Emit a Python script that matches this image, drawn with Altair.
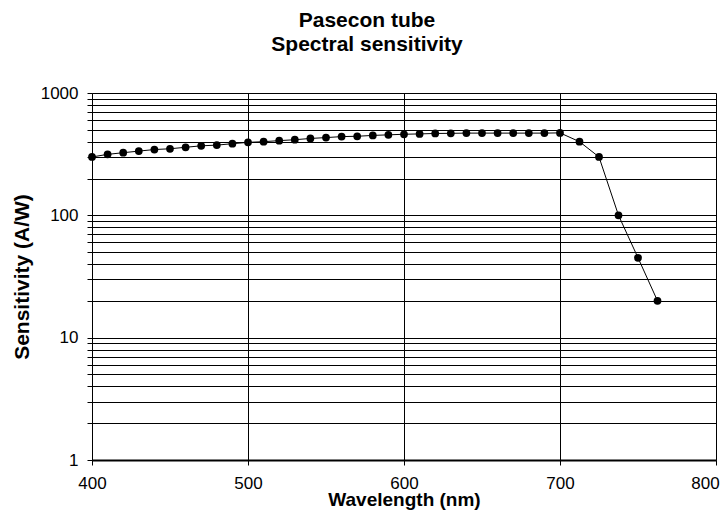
import altair as alt
import pandas as pd

wavelength = [400, 410, 420, 430, 440, 450, 460, 470, 480, 490, 500,
              510, 520, 530, 540, 550, 560, 570, 580, 590, 600,
              610, 620, 630, 640, 650, 660, 670, 680, 690, 700,
              712.5, 725, 737.5, 750, 762.5]
sensitivity = [300, 315, 325, 335, 345, 350, 360, 370, 375, 385, 395,
               400, 408, 415, 425, 432, 440, 443, 450, 455, 460,
               463, 467, 468, 470, 470, 470, 470, 470, 470, 472,
               400, 300, 100, 45, 20]

y_ticks = [1, 2, 3, 4, 5, 6, 7, 8, 9, 10, 20, 30, 40, 50, 60, 70, 80, 90,
           100, 200, 300, 400, 500, 600, 700, 800, 900, 1000]
x_ticks = [400, 500, 600, 700, 800]

df = pd.DataFrame({"wavelength": wavelength, "sensitivity": sensitivity})

FONT = "Liberation Sans"

x_enc = alt.X("wavelength:Q",
              scale=alt.Scale(domain=[400, 800], nice=False, zero=False),
              axis=alt.Axis(values=x_ticks, title="Wavelength (nm)", grid=True,
                            gridColor="#000000", gridWidth=1, gridOpacity=1,
                            domainColor="#000000", domainWidth=2,
                            tickColor="#000000", tickSize=5, tickWidth=1,
                            labelFont=FONT, labelFontSize=17, labelColor="#000000",
                            labelPadding=10, format="d", labelFlush=False,
                            labelOverlap=False,
                            labelOffset={"expr": "datum.value == 800 ? -11 : 0"},
                            titleFont=FONT, titleFontSize=19, titleFontWeight="bold",
                            titleColor="#000000", titlePadding=-1))
y_enc = alt.Y("sensitivity:Q",
              scale=alt.Scale(type="log", domain=[1, 1000], nice=False),
              axis=alt.Axis(values=y_ticks, title="Sensitivity (A/W)", grid=True,
                            gridColor="#000000", gridWidth=1, gridOpacity=1,
                            domainColor="#000000", domainWidth=1,
                            tickColor="#000000", tickSize=5, tickWidth=1,
                            labelExpr="(datum.value==1||datum.value==10||datum.value==100||datum.value==1000) ? format(datum.value,'d') : ''",
                            labelFont=FONT, labelFontSize=17, labelColor="#000000",
                            labelPadding=9, labelFlush=False, labelOverlap=False,
                            titleFont=FONT, titleFontSize=21, titleFontWeight="bold",
                            titleColor="#000000", titlePadding=8))

line = alt.Chart(df).mark_line(color="#000000", strokeWidth=1).encode(x=x_enc, y=y_enc)
pts = alt.Chart(df).mark_point(filled=True, color="#000000", size=60, opacity=1).encode(
    x="wavelength:Q", y="sensitivity:Q")

chart = (line + pts).properties(
    width=624, height=367,
    autosize=alt.AutoSizeParams(type="none"),
    padding={"left": 84, "top": 85, "right": 4, "bottom": 51},
    title=alt.TitleParams(["Pasecon tube", "Spectral sensitivity"], font=FONT,
                          fontSize=21, fontWeight="bold", color="#000000",
                          lineHeight=24, anchor="middle", dx=-37, offset=29),
).configure_view(stroke="#000000", strokeWidth=1).configure(background="white")

chart.save("out.html", embed_options={"renderer": "svg", "actions": False})
